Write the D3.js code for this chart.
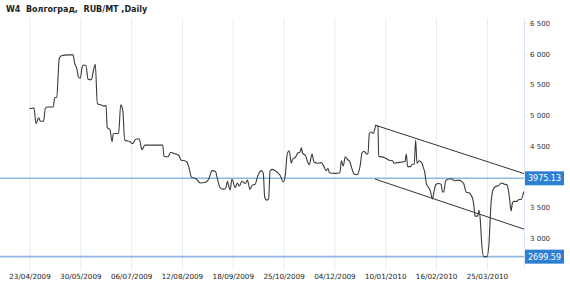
<!DOCTYPE html>
<html>
<head>
<meta charset="utf-8">
<script src="https://cdn.jsdelivr.net/npm/d3@7"></script>
<style>
  body { margin: 0; background: #fff; }
  svg { display: block; font-family: "DejaVu Sans", Verdana, sans-serif; }
</style>
</head>
<body>
<svg id="chart" width="570" height="285"></svg>
<script>
// DATA (day offset from 23/04/2009, price)
const days = [0, 3.3, 4.7, 6.7, 7.9, 10.3, 11.5, 13.5, 17.3, 18.3, 19.8, 21.7, 23.2, 28, 31.7, 32.9, 34.4, 35.8, 37, 38.2,
  39.2, 41.1, 42.6, 45, 46.4, 47.9, 49.4, 52.3, 54.2, 55.7, 56.6, 58.6, 60.1, 61, 64.9, 66.4, 67.9, 69.3, 73.2, 75.1,
  76.1, 77.5, 79.9, 81.9, 83.9, 89.9, 97, 97.9, 100.8, 102.8, 105.2, 108.6, 110.5, 113, 114.4, 115.9, 117.8, 121.7, 124.1, 128.5,
  130.5, 132.9, 135.3, 136.8, 138.7, 141.6, 143.1, 144, 146, 147.4, 149.8, 151.3, 152.7, 154.7, 157.1, 158.6, 160.5, 162, 164.4, 165.8,
  168.8, 170.2, 171.2, 172.7, 174.1, 175.1, 176.5, 178.7, 182.4, 184.8, 186.2, 187.7, 189.1, 190.6, 191.6, 193.5, 195.5, 196.9, 197.9, 198.9,
  200.8, 202.2, 203.7, 205.7, 207.1, 209.5, 212.4, 214.4, 215.9, 217.3, 218.3, 222.6, 226, 227, 228.4, 229.9, 231.4, 233.3, 234.3, 236.3,
  238.6, 240.6, 242.1, 243.5, 245, 246.4, 247.4, 248.8, 250.3, 252.3, 253.7, 254.2, 258.1, 261.9, 264.4, 265.4, 267.6, 271, 273.4, 274.3,
  275.3, 277.2, 278.7, 280.1, 281.1, 282.1, 283.6, 285.5, 286.5, 287.9, 288.9, 290.3, 291.8, 293.3, 294.7, 295.7, 297.6, 299.6, 300.5, 301.5,
  303, 304.9, 307.8, 309.3, 312.2, 314.6, 316.1, 317.1, 318, 320, 321.4, 322.9, 323.8, 324.3, 326.3, 327.2, 328.2, 329.2, 330.7, 333.1,
  334.5, 336, 337.4, 338.9, 341.8, 343.3, 345.7, 347.6, 348.6, 349.6, 350.6, 351.5, 352.5, 354.9, 356.4, 357.8, 359.8];
const prices = [5110, 5120, 4865, 4960, 4905, 4905, 5115, 5135, 5135, 5285, 5295, 5930, 5970, 5985, 5985, 5845, 5765, 5615, 5605, 5775,
  5820, 5810, 5590, 5580, 5710, 5830, 5190, 5170, 5150, 5165, 4800, 4765, 4570, 4700, 4710, 5170, 5080, 4600, 4570, 4540,
  4570, 4615, 4615, 4440, 4515, 4515, 4515, 4335, 4325, 4400, 4380, 4350, 4270, 4260, 4245, 4165, 4000, 3960, 3900, 3915,
  3965, 4100, 4090, 3965, 3825, 3795, 3825, 3925, 3785, 3960, 3825, 3900, 3850, 3925, 3890, 3945, 3795, 3860, 3880, 3990,
  4100, 4055, 3675, 3620, 3640, 4090, 4120, 4100, 4025, 3915, 4025, 4380, 4425, 4220, 4285, 4315, 4390, 4400, 4470, 4380,
  4350, 4260, 4195, 4370, 4240, 4220, 4230, 4165, 4100, 4140, 4065, 4055, 4065, 4260, 4175, 4325, 4285, 4240, 4165, 4045,
  4035, 4165, 4390, 4415, 4380, 4370, 4705, 4730, 4705, 4835, 4825, 4335, 4315, 4270, 4260, 4220, 4230, 4240, 4250, 4370,
  4165, 4165, 4205, 4205, 4600, 4220, 4260, 4230, 4165, 4055, 3890, 3835, 3770, 3640, 3785, 3870, 3890, 3880, 3770, 3750,
  3935, 3965, 3965, 3935, 3945, 3925, 3890, 3805, 3750, 3740, 3705, 3620, 3470, 3360, 3360, 3460, 3295, 2915, 2700, 2700,
  2915, 3565, 3785, 3835, 3860, 3900, 3880, 3870, 3785, 3620, 3445, 3565, 3600, 3600, 3630, 3630, 3760];

const tickDays = [0, 37, 74, 111, 148, 185, 222, 259, 296, 333];
const tickLabels = ["23/04/2009", "30/05/2009", "06/07/2009", "12/08/2009", "18/09/2009",
  "25/10/2009", "04/12/2009", "10/01/2010", "16/02/2010", "25/03/2010"];
// 4 000 sits under the 3975.13 marker, so it is not labelled
const priceTicks = [3000, 3500, 4500, 5000, 5500, 6000, 6500];

// horizontal levels and channel lines
const levels = [3975.13, 2699.59];
const channelUpper = [[251.5, 4842], [360, 4052]];
const channelLower = [[251.5, 3963], [360, 3148]];

const title = "W4  Волгоград,  RUB/MT ,Daily";

// SETUP
const svg = d3.select("#chart");
const plotLeft = 29.5, plotRight = 524, plotTop = 18, plotBottom = 268;

const x = d3.scaleLinear().domain([0, 360]).range([plotLeft, plotRight]);
const y = d3.scaleLinear().domain([2515, 6585]).range([plotBottom, plotTop]);

// title
svg.append("text")
  .attr("x", 6).attr("y", 12)
  .attr("font-size", 8).attr("font-weight", "bold")
  .attr("fill", "#222")
  .style("white-space", "pre")
  .text(title);

// vertical grid
svg.append("g").selectAll("line")
  .data(tickDays)
  .join("line")
  .attr("x1", d => x(d) + 0.5).attr("x2", d => x(d) + 0.5)
  .attr("y1", plotTop).attr("y2", plotBottom + 2)
  .attr("stroke", "#e4edf8");

// x axis labels
svg.append("g")
  .attr("transform", `translate(0,${plotBottom})`)
  .call(d3.axisBottom(x).tickValues(tickDays).tickFormat((d, i) => tickLabels[i]).tickSize(0).tickPadding(6))
  .call(g => g.select(".domain").remove())
  .call(g => g.selectAll("text").attr("font-size", 7.2).attr("fill", "#222")
    .attr("font-family", "DejaVu Sans"));

// right axis
const fmt = d => d3.format(",")(d).replace(",", " ");
svg.append("g")
  .attr("transform", `translate(${plotRight},0)`)
  .call(d3.axisRight(y).tickValues(priceTicks).tickFormat(fmt).tickSize(3).tickPadding(3))
  .call(g => g.select(".domain").attr("stroke", "#dce8f5").attr("d", `M0.5,${plotTop}V${plotBottom}`))
  .call(g => g.selectAll(".tick line").attr("stroke", "#dce8f5"))
  .call(g => g.selectAll("text").attr("font-size", 7).attr("fill", "#333")
    .attr("font-family", "DejaVu Sans"));

// level lines
svg.append("g").selectAll("line")
  .data(levels)
  .join("line")
  .attr("x1", 0).attr("x2", plotRight)
  .attr("y1", d => y(d)).attr("y2", d => y(d))
  .attr("stroke", "#8fb8e2").attr("stroke-width", 1.6);

// channel
const seg = d3.line().x(d => x(d[0])).y(d => y(d[1]));
svg.append("g").selectAll("path")
  .data([channelUpper, channelLower])
  .join("path")
  .attr("d", seg)
  .attr("fill", "none").attr("stroke", "#333").attr("stroke-width", 1);

// price line
const line = d3.line()
  .x((d, i) => x(days[i]))
  .y(d => y(d))
  .curve(d3.curveMonotoneX);
svg.append("path")
  .datum(prices)
  .attr("d", line)
  .attr("fill", "none")
  .attr("stroke", "#3a3a3a")
  .attr("stroke-width", 1.1);

// level boxes
const boxes = svg.append("g").selectAll("g")
  .data(levels)
  .join("g")
  .attr("transform", d => `translate(${plotRight + 1},${y(d)})`);
boxes.append("rect")
  .attr("x", 0).attr("y", -7).attr("width", 39).attr("height", 14)
  .attr("fill", "#2c7fd3");
boxes.append("text")
  .attr("x", 19.5).attr("y", 3)
  .attr("text-anchor", "middle")
  .attr("font-size", 8).attr("fill", "#fff")
  .text(d => d.toFixed(2));
</script>
</body>
</html>
